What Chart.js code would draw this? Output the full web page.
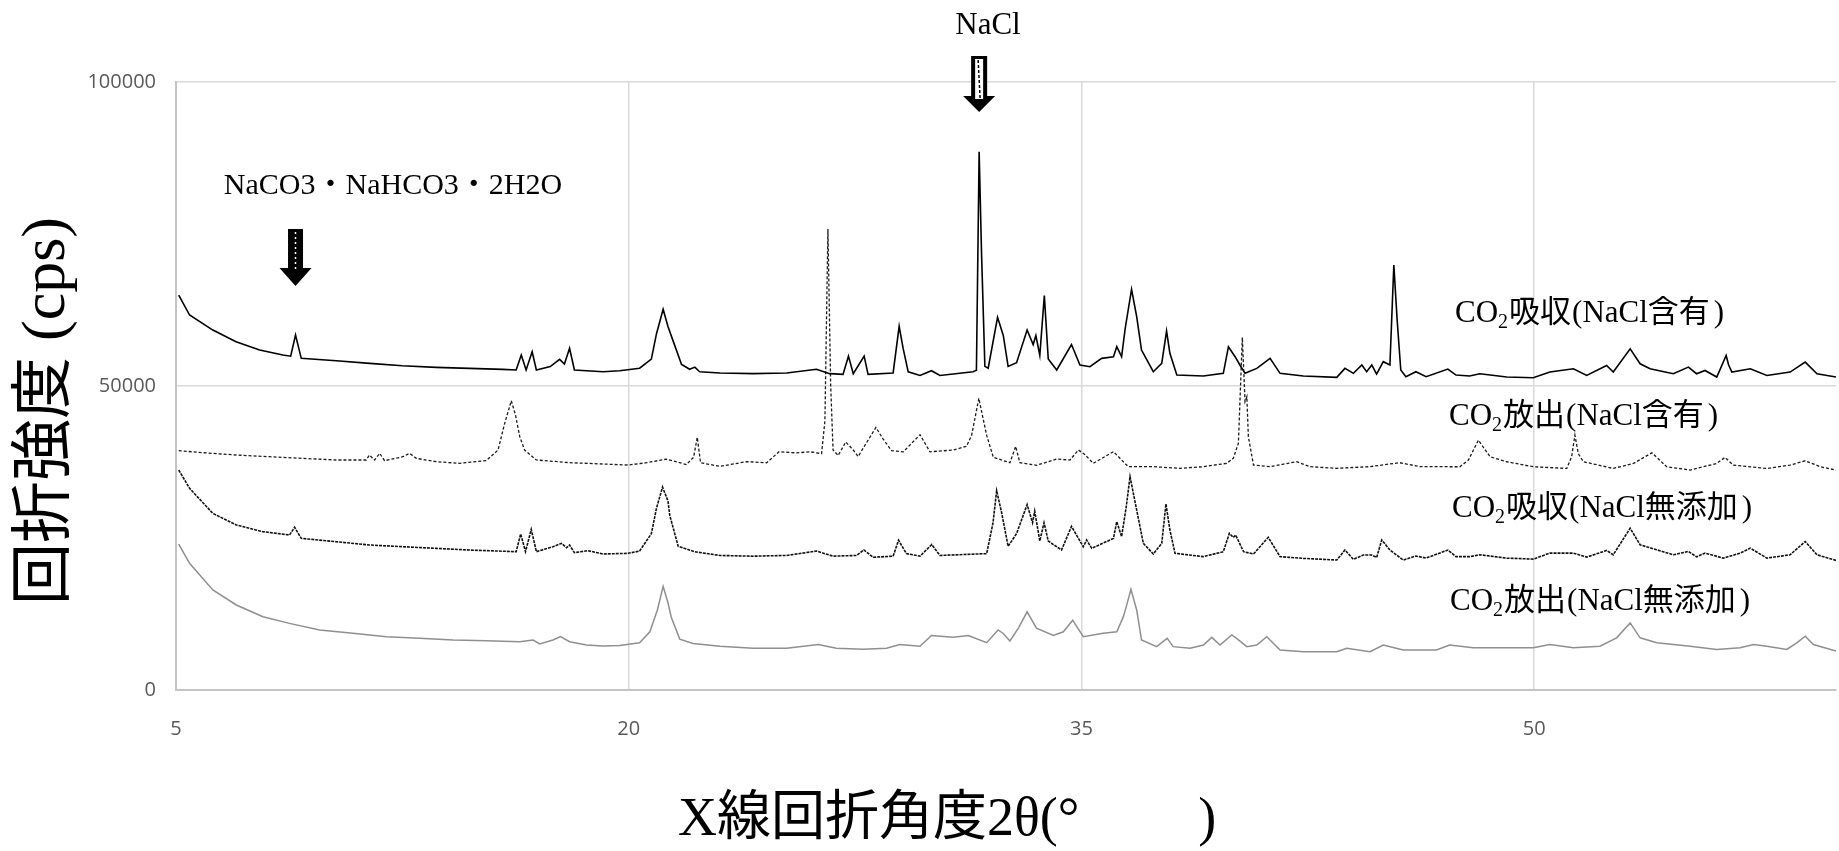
<!DOCTYPE html>
<html>
<head>
<meta charset="utf-8">
<script src="https://cdn.jsdelivr.net/npm/chart.js@4"></script>
<style>
  html, body { margin: 0; padding: 0; background: #fff; overflow: hidden; }
</style>
</head>
<body>
<canvas id="xrd" width="1839" height="851"></canvas>
<script>
// axis ticks
const xTicks = [5, 20, 35, 50];
const yTicks = [0, 50000, 100000];

// series labels
const seriesNames = ['CO2吸収（NaCl含有）', 'CO2放出（NaCl含有）', 'CO2吸収（NaCl無添加）', 'CO2放出（NaCl無添加）'];

// CO2吸収（NaCl含有）
const absNaclX = [5.09, 5.45, 6.22, 6.99, 7.77, 8.54, 8.8, 8.96, 9.15, 10.31, 11.42, 12.5, 13.62, 14.72, 15.83, 16.27, 16.44, 16.6, 16.8, 16.94, 17.4, 17.71, 17.87, 18.04, 18.2, 19.15, 19.7, 20.36, 20.75, 20.92, 21.14, 21.3, 21.47, 21.75, 22.02, 22.19, 22.35, 23.02, 24.12, 25.23, 26.22, 26.66, 27.1, 27.28, 27.44, 27.8, 27.93, 28.76, 28.96, 29.09, 29.26, 29.65, 30.03, 30.31, 31.41, 31.52, 31.61, 31.69, 31.8, 31.91, 32.22, 32.41, 32.57, 32.85, 33.2, 33.4, 33.49, 33.62, 33.77, 33.9, 34.18, 34.67, 34.95, 35.28, 35.67, 36.06, 36.17, 36.33, 36.45, 36.66, 36.83, 36.99, 37.38, 37.66, 37.82, 37.93, 38.16, 39.04, 39.7, 39.87, 40.09, 40.25, 40.42, 40.81, 41.25, 41.58, 42.35, 43.46, 43.73, 44.01, 44.29, 44.45, 44.62, 44.78, 45.0, 45.22, 45.35, 45.46, 45.58, 45.75, 46.08, 46.42, 47.14, 47.41, 47.86, 48.2, 49.09, 49.97, 50.52, 51.3, 51.74, 52.4, 52.62, 53.18, 53.51, 53.84, 54.61, 55.11, 55.38, 55.66, 56.05, 56.36, 56.44, 56.55, 57.16, 57.71, 58.48, 58.98, 59.37, 60.0];
const absNaclY = [64960, 61670, 59200, 57290, 55920, 55090, 54900, 58380, 54550, 54160, 53720, 53340, 53070, 52900, 52740, 52630, 55090, 52630, 55640, 52630, 53200, 54380, 53600, 56190, 52630, 52350, 52510, 52930, 54430, 58600, 62620, 59800, 57420, 53530, 52750, 53110, 52330, 52150, 52030, 52150, 52750, 52030, 51910, 54910, 52030, 54910, 51910, 52150, 59810, 56220, 52330, 51730, 52510, 51730, 52330, 52600, 88520, 71770, 53230, 52930, 61300, 58310, 53230, 53830, 59210, 56820, 58310, 55030, 64890, 54430, 52630, 56820, 53450, 53180, 54550, 54820, 56460, 54820, 59500, 65890, 61400, 55920, 52350, 53720, 59040, 55370, 51800, 51640, 52080, 56460, 54820, 53450, 52080, 52900, 54550, 52080, 51640, 51420, 52900, 52080, 53450, 52350, 53450, 51970, 54000, 53450, 69890, 60850, 52630, 51530, 52350, 51530, 52790, 51800, 51640, 52020, 51470, 51360, 52290, 52830, 51740, 53380, 52290, 56110, 53650, 52830, 52020, 53110, 52020, 52560, 51470, 55020, 53500, 52290, 52830, 51740, 52290, 53930, 52020, 51470];

// CO2放出（NaCl含有）
const relNaclX = [5.09, 5.89, 7.0, 8.1, 9.2, 10.31, 11.3, 11.41, 11.58, 11.75, 11.91, 12.52, 12.74, 12.96, 13.62, 14.4, 15.28, 15.67, 15.89, 16.11, 16.25, 16.39, 16.55, 16.94, 18.04, 19.15, 19.98, 20.59, 21.25, 21.91, 22.15, 22.27, 22.38, 23.02, 23.9, 24.57, 24.98, 25.56, 26.0, 26.39, 26.5, 26.6, 26.69, 26.77, 26.94, 27.19, 27.44, 27.6, 27.88, 28.19, 28.43, 28.71, 29.1, 29.65, 29.98, 30.75, 31.19, 31.36, 31.6, 31.86, 32.08, 32.63, 32.82, 32.96, 33.51, 34.18, 34.62, 34.9, 35.12, 35.39, 36.06, 36.55, 37.38, 38.26, 39.04, 39.81, 40.03, 40.2, 40.33, 40.42, 40.48, 40.53, 40.7, 41.25, 42.13, 42.57, 43.46, 44.56, 45.54, 46.22, 47.54, 47.82, 48.15, 48.54, 49.09, 49.97, 51.08, 51.24, 51.35, 51.46, 51.63, 52.62, 53.29, 53.9, 54.39, 55.17, 56.05, 56.32, 56.6, 57.71, 58.48, 58.98, 59.48, 60.0];
const relNaclY = [39360, 39030, 38650, 38370, 38100, 37830, 37830, 38650, 37830, 38920, 37720, 38370, 38920, 38100, 37550, 37280, 37720, 39470, 43860, 47580, 45200, 41660, 39470, 37830, 37390, 37170, 37000, 37380, 37980, 37080, 38280, 41570, 37380, 36780, 37560, 37380, 39180, 39000, 39180, 38880, 44260, 75840, 50240, 39470, 38580, 40790, 39470, 38400, 40670, 43180, 41270, 39360, 39180, 41990, 39180, 39470, 40070, 41870, 47970, 41870, 38280, 37380, 40070, 37380, 36960, 37980, 37830, 39470, 38700, 37280, 39200, 36730, 36730, 36460, 36730, 37280, 38100, 40570, 58000, 47420, 48240, 41660, 37000, 36730, 37550, 36730, 36460, 36730, 37390, 36730, 36720, 37810, 41090, 38360, 37540, 36720, 36440, 38360, 41910, 38900, 37540, 36440, 37270, 39010, 36720, 36170, 37270, 38250, 36990, 36440, 36990, 37700, 36720, 36170];

// CO2吸収（NaCl無添加）
const absPureX = [5.09, 5.45, 6.22, 7.0, 7.88, 8.76, 8.93, 9.15, 10.31, 11.41, 12.52, 13.62, 14.72, 16.27, 16.42, 16.58, 16.77, 16.94, 17.49, 17.77, 17.94, 18.04, 18.2, 18.65, 19.15, 19.98, 20.36, 20.75, 20.92, 21.12, 21.3, 21.36, 21.64, 22.19, 23.02, 24.12, 25.23, 26.22, 26.77, 27.55, 27.79, 28.1, 28.76, 28.94, 29.2, 29.65, 30.04, 30.31, 31.86, 32.07, 32.19, 32.35, 32.57, 32.85, 33.2, 33.38, 33.45, 33.62, 33.76, 33.9, 34.07, 34.34, 34.67, 35.06, 35.17, 35.34, 36.06, 36.17, 36.33, 36.48, 36.61, 36.83, 37.05, 37.38, 37.66, 37.8, 37.93, 38.1, 39.04, 39.7, 39.9, 40.03, 40.11, 40.37, 40.7, 41.19, 41.58, 42.35, 43.46, 43.73, 44.01, 44.34, 44.62, 44.78, 44.95, 45.22, 45.66, 46.08, 46.42, 47.14, 47.41, 47.86, 48.2, 49.09, 49.97, 50.52, 51.3, 51.74, 52.4, 52.62, 53.18, 53.51, 54.06, 54.61, 55.11, 55.38, 55.66, 56.27, 56.82, 57.16, 57.71, 58.48, 58.98, 59.37, 60.0];
const absPureY = [36180, 33170, 29050, 27140, 26040, 25490, 26750, 24940, 24390, 23850, 23570, 23300, 23020, 22750, 25660, 22750, 26420, 22750, 23570, 24120, 23400, 23850, 22590, 22910, 22370, 22480, 22850, 25720, 29900, 33370, 31100, 28710, 23630, 22730, 22130, 22010, 22130, 22850, 22010, 22130, 23030, 21830, 22010, 24640, 22430, 22010, 23920, 22130, 22430, 27510, 32780, 29310, 23630, 25720, 30500, 27510, 29430, 24520, 27510, 24520, 23920, 23030, 26910, 23570, 24670, 23300, 24940, 27680, 25220, 30000, 35090, 29600, 24120, 22370, 24120, 30590, 26310, 22480, 21930, 22750, 25770, 25110, 25490, 22750, 22370, 25110, 21930, 21650, 21380, 23020, 21490, 22200, 22200, 21800, 24670, 23020, 21380, 22040, 21700, 23020, 21930, 21930, 22240, 21690, 21530, 22510, 22510, 21860, 22950, 22240, 26610, 23880, 23060, 22240, 22790, 21900, 22510, 21690, 22510, 23330, 21690, 22240, 24420, 22240, 21310];

// CO2放出（NaCl無添加）
const relPureX = [5.09, 5.45, 6.22, 7.0, 7.88, 8.76, 9.76, 10.86, 11.97, 13.07, 14.18, 15.28, 16.39, 16.83, 17.05, 17.49, 17.74, 18.04, 18.6, 19.15, 19.7, 20.36, 20.7, 20.95, 21.14, 21.3, 21.41, 21.69, 22.13, 23.02, 24.12, 25.23, 26.28, 26.88, 27.77, 28.54, 28.98, 29.65, 30.03, 30.75, 31.25, 31.86, 32.24, 32.41, 32.63, 32.91, 33.2, 33.51, 34.07, 34.4, 34.71, 35.06, 35.72, 36.17, 36.39, 36.5, 36.64, 36.83, 36.99, 37.49, 37.84, 38.04, 38.6, 39.04, 39.32, 39.59, 39.98, 40.14, 40.48, 40.81, 41.14, 41.58, 42.35, 43.46, 43.79, 44.56, 45.0, 45.66, 46.76, 47.2, 47.98, 49.09, 49.97, 50.52, 51.3, 52.18, 52.73, 53.18, 53.51, 54.06, 55.17, 56.05, 56.82, 57.27, 57.71, 58.37, 58.7, 58.98, 59.25, 60.0];
const relPureY = [24010, 20830, 16450, 13980, 12060, 10960, 9870, 9320, 8770, 8500, 8220, 8110, 7950, 8220, 7570, 8220, 8770, 7950, 7400, 7240, 7300, 7780, 9570, 13160, 17050, 14350, 11960, 8370, 7660, 7180, 6880, 6880, 7480, 6880, 6700, 6880, 7480, 7180, 8970, 8670, 8970, 7780, 9870, 9300, 8070, 10170, 12860, 10170, 8970, 9570, 11480, 8770, 9320, 9590, 12060, 14000, 16560, 13160, 8220, 7130, 8500, 7130, 6850, 7400, 8660, 7400, 9050, 8500, 7130, 7400, 8770, 6580, 6300, 6300, 6850, 6300, 7400, 6580, 6580, 7400, 6940, 6940, 6940, 7490, 6940, 7210, 8580, 11040, 8580, 7760, 7210, 6670, 6940, 7490, 7210, 6670, 7760, 8850, 7490, 6390];

const toPoints = (xs, ys) => xs.map((x, i) => ({ x: x, y: ys[i] }));

const LATIN_CJK = '"Liberation Serif", "Noto Sans CJK JP"';

// draws runs of [text, font, gap-before, dy] left to right, returns end x
function drawRuns(ctx, runs, x, y) {
  for (const [text, font, gap, dy] of runs) {
    x += gap || 0;
    ctx.font = font;
    ctx.fillText(text, x, y + (dy || 0));
    x += ctx.measureText(text).width;
  }
  return x;
}

function drawCo2Label(ctx, text, x, y) {
  // text like "CO2吸収（NaCl含有）": subscript 2, narrow brackets
  const body = text.slice(3, -1);
  const [verb, rest] = body.split('（');
  const f = '31px ' + LATIN_CJK;
  drawRuns(ctx, [
    ['CO', f],
    ['2', '20px "Liberation Serif"', 0, 9],
    [verb, f, 1],
    ['(', f, 1],
    [rest, f],
    [')', f, 4]
  ], x, y);
}

const annotations = {
  id: 'annotations',
  afterDraw(chart) {
    const ctx = chart.ctx;
    const xs = chart.scales.x;
    ctx.save();
    ctx.fillStyle = '#000';

    // peak marker texts
    ctx.textAlign = 'center';
    ctx.textBaseline = 'middle';
    ctx.font = '31px ' + LATIN_CJK;
    ctx.fillText('NaCl', 988, 26);
    ctx.font = '30px ' + LATIN_CJK;
    ctx.fillText('NaCO3・NaHCO3・2H2O', 393, 186);

    // arrow over NaCO3 peak (black with dotted white core)
    let cx = xs.getPixelForValue(8.96);
    ctx.beginPath();
    ctx.moveTo(cx - 7.5, 229); ctx.lineTo(cx + 7.5, 229); ctx.lineTo(cx + 7.5, 268);
    ctx.lineTo(cx + 16, 268); ctx.lineTo(cx, 286); ctx.lineTo(cx - 16, 268);
    ctx.lineTo(cx - 7.5, 268); ctx.closePath(); ctx.fill();
    ctx.strokeStyle = '#fff'; ctx.lineWidth = 1.5; ctx.setLineDash([2, 3]);
    ctx.beginPath(); ctx.moveTo(cx, 232); ctx.lineTo(cx, 272); ctx.stroke();

    // arrow over NaCl peak (outlined shaft, hatched core)
    cx = xs.getPixelForValue(31.61);
    ctx.setLineDash([]);
    ctx.beginPath();
    ctx.moveTo(cx - 8, 56); ctx.lineTo(cx + 8, 56); ctx.lineTo(cx + 8, 96);
    ctx.lineTo(cx + 16, 96); ctx.lineTo(cx, 112); ctx.lineTo(cx - 16, 96);
    ctx.lineTo(cx - 8, 96); ctx.closePath(); ctx.fill();
    ctx.fillStyle = '#fff';
    ctx.fillRect(cx - 4, 59, 8, 40);
    ctx.strokeStyle = '#000'; ctx.lineWidth = 1.5; ctx.setLineDash([3, 2]);
    ctx.beginPath(); ctx.moveTo(cx - 1, 60); ctx.lineTo(cx + 1, 99); ctx.stroke();
    ctx.setLineDash([]);
    ctx.fillStyle = '#000';

    // series names
    ctx.textAlign = 'left';
    drawCo2Label(ctx, seriesNames[0], 1455, 314);
    drawCo2Label(ctx, seriesNames[1], 1449, 417);
    drawCo2Label(ctx, seriesNames[2], 1452, 509);
    drawCo2Label(ctx, seriesNames[3], 1450, 602);

    // x axis title
    ctx.font = '54px ' + LATIN_CJK;
    ctx.fillText('X線回折角度2θ(°　　\u2009)', 678, 821);

    // y axis title (rotated)
    ctx.translate(48, 411);
    ctx.rotate(-Math.PI / 2);
    const yf = '62px ' + LATIN_CJK;
    ctx.font = yf;
    const gap = 16;
    const total = ctx.measureText('回折強度').width + ctx.measureText('(cps)').width + gap;
    drawRuns(ctx, [['回折強度', yf], ['(cps)', yf, gap]], -total / 2, 0);
    ctx.restore();
  }
};

new Chart(document.getElementById('xrd').getContext('2d'), {
  type: 'line',
  data: {
    datasets: [
      { label: seriesNames[0], data: toPoints(absNaclX, absNaclY), borderColor: '#000', borderWidth: 1.6 },
      { label: seriesNames[1], data: toPoints(relNaclX, relNaclY), borderColor: '#1a1a1a', borderWidth: 1.3, borderDash: [3, 2] },
      { label: seriesNames[2], data: toPoints(absPureX, absPureY), borderColor: '#111', borderWidth: 1.6, borderDash: [3, 1] },
      { label: seriesNames[3], data: toPoints(relPureX, relPureY), borderColor: '#8f8f8f', borderWidth: 1.5 }
    ]
  },
  options: {
    responsive: false,
    animation: false,
    events: [],
    elements: { point: { radius: 0 }, line: { tension: 0, fill: false } },
    layout: { padding: { top: 82, right: 3, left: 0, bottom: 0 } },
    plugins: { legend: { display: false }, tooltip: { enabled: false } },
    scales: {
      x: {
        type: 'linear',
        min: 5,
        max: 60,
        afterBuildTicks: s => { s.ticks = xTicks.map(v => ({ value: v })); },
        afterFit: s => { s.height = 161; },
        grid: { color: '#d9d9d9', lineWidth: 1.5, drawTicks: false },
        border: { color: '#c4c4c4', width: 2 },
        ticks: { color: '#595959', padding: 27, font: { family: 'Open Sans', size: 20 } }
      },
      y: {
        min: 0,
        max: 100000,
        afterBuildTicks: s => { s.ticks = yTicks.map(v => ({ value: v })); },
        afterFit: s => { s.width = 176; },
        grid: { color: '#d9d9d9', lineWidth: 1.5, drawTicks: false },
        border: { color: '#c4c4c4', width: 2 },
        ticks: { color: '#595959', padding: 20, font: { family: 'Open Sans', size: 20 }, callback: v => String(v) }
      }
    }
  },
  plugins: [annotations]
});
</script>
</body>
</html>
